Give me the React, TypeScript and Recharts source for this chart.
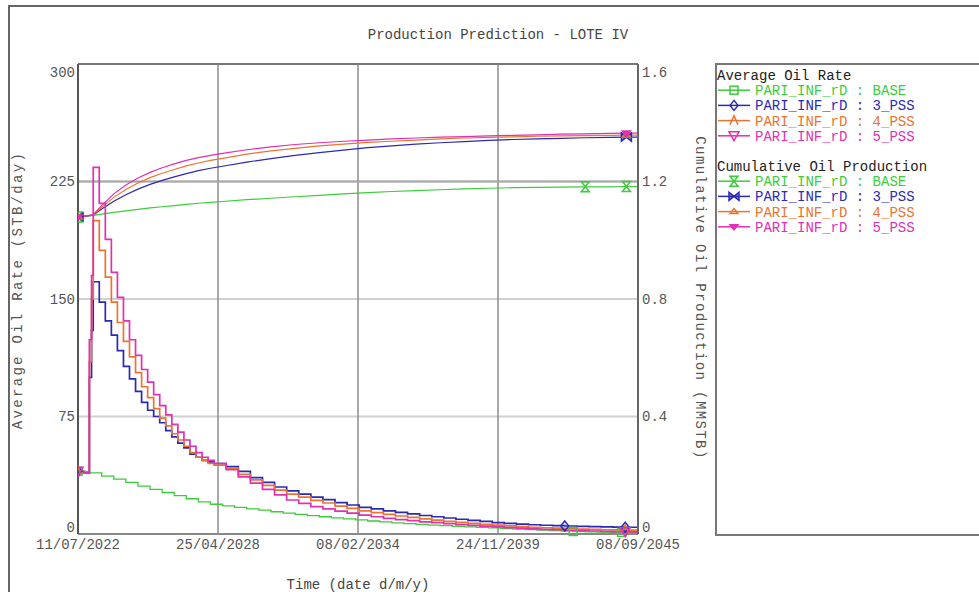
import React from 'react';
import { LineChart, Line, XAxis, YAxis, CartesianGrid, ReferenceLine } from 'recharts';

// x axis: decimal years, ticks shown as dates
const TICK_T = [2022.52, 2028.31, 2034.1, 2039.89, 2045.68];
const TICK_LABELS = ['11/07/2022', '25/04/2028', '08/02/2034', '24/11/2039', '08/09/2045'];
const RATE_TICKS = [0, 75, 150, 225, 300];
const CUM_TICKS = [0, 0.4, 0.8, 1.2, 1.6];

// rate of the three PSS cases (STB/day), stepped
const T_PSS = [
  2022.52, 2022.75, 2022.99, 2023.08,
  2023.15, 2023.4, 2023.65, 2023.9, 2024.15, 2024.4, 2024.65, 2024.9, 2025.15, 2025.4, 2025.65,
  2025.9, 2026.15, 2026.4, 2026.65, 2026.9, 2027.15, 2027.4, 2027.65, 2027.9, 2028.15,
  2028.65, 2029.15, 2029.65, 2030.15, 2030.65, 2031.15, 2031.65, 2032.15, 2032.65, 2033.15,
  2033.65, 2034.15, 2034.65, 2035.15, 2035.65, 2036.15, 2036.65, 2037.15, 2037.65, 2038.15,
  2038.65, 2039.15, 2039.65, 2040.15, 2040.65, 2041.15, 2041.65, 2042.15, 2042.65, 2043.15,
  2043.65, 2044.15, 2044.65, 2045.15, 2045.68,
];
const RATE_3PSS = [
  40, 39, 100, 130,
  161, 148, 136, 127, 117, 107, 99, 91, 84, 79, 75, 71, 66, 62, 58, 55, 51, 49, 47, 46, 45,
  43, 40, 36, 33, 30, 27.5, 25.5, 23.5, 22, 20, 18.5, 17, 16, 14.8, 13.8, 12.8, 11.8, 11, 10.2, 9.4,
  8.7, 8, 7.3, 6.8, 6.3, 5.9, 5.6, 5.3, 5.1, 4.9, 4.7, 4.5, 4.4, 4.3,
  4.2,
];
const RATE_4PSS = [
  40, 39, 110, 150,
  200, 181, 164, 148, 135, 123, 113, 103, 94, 87, 80, 74, 69, 64, 60, 56, 52, 49, 47, 45, 44,
  42, 38, 34.5, 31, 28, 25.5, 23.5, 21.5, 19.8, 17.8, 16.3, 14.8, 13.6, 12.5, 11.5, 10.6, 9.7, 8.9, 8.1, 7.4,
  6.8, 6.2, 5.7, 5.2, 4.7, 4.3, 4.0, 3.7, 3.4, 3.1, 2.9, 2.7, 2.6, 2.5,
  2.4,
];
const RATE_5PSS = [
  40, 39, 124, 165,
  234, 211, 188, 167, 151, 136, 124, 114, 105, 97, 89, 82, 76, 70, 65, 60, 56, 52, 49, 47, 45,
  41, 36.5, 32.5, 28.5, 25, 21.7, 19.5, 17.5, 16, 14.6, 13.3, 12, 11, 10, 9.2, 8.5, 7.8, 7.2, 6.6, 6,
  5.5, 5, 4.6, 4.1, 3.7, 3.3, 3, 2.7, 2.4, 2.1, 1.9, 1.7, 1.5, 1.4,
  1.3,
];

// base case rate
const T_BASE = [
  2022.52, 2023, 2023.5, 2024, 2024.5, 2025, 2025.5, 2026, 2026.5, 2027, 2027.5, 2028, 2028.5,
  2029, 2029.5, 2030, 2030.5, 2031, 2031.5, 2032, 2032.5, 2033, 2033.5, 2034, 2034.5, 2035,
  2035.5, 2036, 2036.5, 2037, 2037.5, 2038, 2038.5, 2039, 2039.5, 2040, 2040.5, 2041, 2041.5,
  2042, 2042.5, 2043, 2043.5, 2044, 2044.5, 2045, 2045.5, 2045.68,
];
const RATE_BASE = [
  40, 39, 37, 35, 33, 30.5, 28.5, 26.5, 24.5, 22.5, 20.5, 19, 18,
  17, 16, 15.2, 14.2, 13.3, 12.5, 11.7, 11, 10.3, 9.6, 9, 8.3, 7.7,
  7.1, 6.6, 6.1, 5.7, 5.3, 4.9, 4.5, 4.2, 3.9, 3.5, 3.1, 2.8, 2.5,
  2.2, 1.9, 1.6, 1.4, 1.2, 1.1, 1.0, 0.9, 0.9,
];

// cumulative oil (MMSTB)
const T_CUM = [
  2022.52, 2023.15, 2023.5, 2024, 2024.5, 2025, 2025.5, 2026, 2026.5, 2027, 2027.5, 2028, 2028.5,
  2029.5, 2030.5, 2031.5, 2032.5, 2033.5, 2034.5, 2035.5, 2036.5, 2037.5, 2038.5, 2039.5,
  2040.5, 2041.5, 2042.5, 2043.5, 2044.5, 2045.2, 2045.68,
];
const CUM_BASE = [
  1.079, 1.085, 1.089, 1.095, 1.1, 1.105, 1.11, 1.114, 1.118, 1.122, 1.126, 1.129, 1.132,
  1.138, 1.143, 1.148, 1.153, 1.158, 1.162, 1.166, 1.169, 1.172, 1.175, 1.177,
  1.179, 1.18, 1.181, 1.182, 1.182, 1.183, 1.183,
];
const CUM_3PSS = [
  1.079, 1.085, 1.106, 1.133, 1.155, 1.174, 1.19, 1.204, 1.216, 1.227, 1.237, 1.245, 1.252,
  1.266, 1.278, 1.289, 1.298, 1.307, 1.315, 1.321, 1.327, 1.332, 1.336, 1.34,
  1.343, 1.345, 1.347, 1.349, 1.35, 1.351, 1.351,
];
const CUM_4PSS = [
  1.079, 1.086, 1.112, 1.146, 1.173, 1.195, 1.213, 1.228, 1.241, 1.253, 1.263, 1.272, 1.279,
  1.293, 1.304, 1.313, 1.321, 1.327, 1.333, 1.337, 1.341, 1.345, 1.348, 1.35,
  1.352, 1.354, 1.355, 1.356, 1.357, 1.358, 1.358,
];
const CUM_5PSS = [
  1.079, 1.087, 1.118, 1.158, 1.188, 1.212, 1.231, 1.247, 1.26, 1.272, 1.281, 1.289, 1.296,
  1.308, 1.318, 1.326, 1.332, 1.337, 1.341, 1.345, 1.348, 1.351, 1.353, 1.355,
  1.357, 1.359, 1.361, 1.362, 1.364, 1.365, 1.365,
];

const GREEN = '#3ccc3c';
const BLUE = '#2a2ab4';
const ORANGE = '#ea7430';
const PINK = '#e030b4';
const FONT = '"Liberation Mono", "DejaVu Sans Mono", monospace';

const rows = (ts: number[], vs: number[]) => ts.map((t, i) => ({ t, v: vs[i] }));

const RATE_SERIES = [
  { name: 'PARI_INF_rD : BASE', color: GREEN, shape: 'square', data: rows(T_BASE, RATE_BASE), marks: [2022.52, 2043, 2045], width: 1.3 },
  { name: 'PARI_INF_rD : 3_PSS', color: BLUE, shape: 'diamond', data: rows(T_PSS, RATE_3PSS), marks: [2022.52, 2042.65, 2045.15], width: 1.7 },
  { name: 'PARI_INF_rD : 4_PSS', color: ORANGE, shape: 'tri', data: rows(T_PSS, RATE_4PSS), marks: [2022.52, 2045.15], width: 1.7 },
  { name: 'PARI_INF_rD : 5_PSS', color: PINK, shape: 'invtri', data: rows(T_PSS, RATE_5PSS), marks: [2022.52, 2045.15], width: 1.7 },
];
const CUM_SERIES = [
  { name: 'PARI_INF_rD : BASE', color: GREEN, shape: 'hourglass', data: rows(T_CUM, CUM_BASE), marks: [2022.52, 2043.5, 2045.2], width: 1.2 },
  { name: 'PARI_INF_rD : 3_PSS', color: BLUE, shape: 'bowtie', data: rows(T_CUM, CUM_3PSS), marks: [2022.52, 2045.2], width: 1.2 },
  { name: 'PARI_INF_rD : 4_PSS', color: ORANGE, shape: 'smalltri', data: rows(T_CUM, CUM_4PSS), marks: [2022.52, 2045.2], width: 1.2 },
  { name: 'PARI_INF_rD : 5_PSS', color: PINK, shape: 'smallinv', data: rows(T_CUM, CUM_5PSS), marks: [2022.52, 2045.2], width: 1.2 },
];

function Marker({ shape, x, y, color }: { shape: string; x: number; y: number; color: string }) {
  const p = { stroke: color, strokeWidth: 1.5, fill: 'none' };
  switch (shape) {
    case 'square':
      return <rect x={x - 4} y={y - 4} width={8} height={8} {...p} />;
    case 'diamond':
      return <path d={`M${x},${y - 5} L${x + 4},${y} L${x},${y + 5} L${x - 4},${y} Z`} {...p} />;
    case 'tri':
      return <path d={`M${x - 4},${y + 4} L${x},${y - 5} L${x + 4},${y + 4}`} {...p} />;
    case 'invtri':
      return <path d={`M${x - 5},${y - 4} L${x + 5},${y - 4} L${x},${y + 5} Z`} {...p} />;
    case 'hourglass':
      return <path d={`M${x - 4},${y - 5} H${x + 4} L${x - 4},${y + 5} H${x + 4} Z`} {...p} />;
    case 'bowtie':
      return <path d={`M${x - 5},${y - 4} V${y + 4} L${x + 5},${y - 4} V${y + 4} Z`} {...p} fill={color} fillOpacity={0.5} />;
    case 'smalltri':
      return <path d={`M${x - 4},${y + 2} L${x},${y - 3} L${x + 4},${y + 2} Z`} {...p} />;
    default:
      return <path d={`M${x - 4},${y - 2} L${x + 4},${y - 2} L${x},${y + 3} Z`} {...p} fill={color} />;
  }
}

const makeDot = (s: { shape: string; color: string; marks: number[] }) => (props: any) => {
  const { cx, cy, payload, index } = props;
  if (!s.marks.includes(payload.t)) return <g key={index} />;
  return (
    <g key={index}>
      <Marker shape={s.shape} x={cx} y={cy} color={s.color} />
    </g>
  );
};

const YTick = (props: any) => {
  const { x, y, payload, textAnchor, top, fmt } = props;
  const dy = payload.value === top ? 8 : payload.value === 0 ? -7 : 0;
  return (
    <text x={x} y={y + dy} dy="0.35em" textAnchor={textAnchor} fill="#555" fontSize={14} fontFamily={FONT}>
      {fmt(payload.value)}
    </text>
  );
};

function LegendBlock({ title, series, y0 }: { title: string; series: any[]; y0: number }) {
  return (
    <g>
      <text x={717} y={y0} dy="0.35em" fill="#222" fontSize={14} fontFamily={FONT}>{title}</text>
      {series.map((s, i) => {
        const y = y0 + 15.2 * (i + 1);
        return (
          <g key={s.shape}>
            <line x1={718} x2={750} y1={y} y2={y} stroke={s.color} strokeWidth={1.5} />
            <Marker shape={s.shape} x={734} y={y} color={s.color} />
            <text x={755} y={y} dy="0.35em" fill={s.color} fontSize={14} fontFamily={FONT}>{s.name}</text>
          </g>
        );
      })}
    </g>
  );
}

export default function App() {
  return (
    <div style={{ position: 'absolute', left: 0, top: 0, width: 979, height: 592, overflow: 'hidden', background: '#fff' }}>
      <div style={{ position: 'absolute', left: 8, top: 5, width: 1100, height: 700, border: '2px solid #666' }} />
      <div style={{ position: 'absolute', left: 715, top: 63, width: 400, height: 469, border: '2px solid #777' }} />
      <div style={{ position: 'absolute', left: 0, top: 0 }}>
        <LineChart width={979} height={592} margin={{ top: 64, right: 301, bottom: 28, left: 28 }}>
          <CartesianGrid yAxisId="rate" horizontal vertical={false} stroke="#d0d0d0" strokeWidth={2} />
          <CartesianGrid yAxisId="rate" horizontal={false} vertical stroke="#8c8c8c" strokeWidth={1.5} />
          <XAxis
            dataKey="t"
            type="number"
            domain={[2022.52, 2045.68]}
            allowDataOverflow
            ticks={TICK_T}
            tickFormatter={(v: number) => TICK_LABELS[TICK_T.indexOf(v)] ?? ''}
            tick={{ fill: '#555', fontSize: 14, fontFamily: FONT }}
            tickSize={0}
            tickMargin={5}
            height={30}
            stroke="#888"
            strokeWidth={2}
          />
          <YAxis
            yAxisId="rate"
            domain={[0, 300]}
            ticks={RATE_TICKS}
            width={50}
            tickSize={0}
            tickMargin={3}
            stroke="#555"
            strokeWidth={2}
            tick={<YTick top={300} fmt={(v: number) => String(v)} />}
          />
          <YAxis
            yAxisId="cum"
            orientation="right"
            domain={[0, 1.6]}
            ticks={CUM_TICKS}
            width={40}
            tickSize={0}
            tickMargin={4}
            stroke="#666"
            strokeWidth={2}
            tick={<YTick top={1.6} fmt={(v: number) => (v === 0 ? '0' : v.toFixed(1))} />}
          />
          <ReferenceLine yAxisId="rate" y={225} stroke="#a8a8a8" strokeWidth={2} />
          <ReferenceLine yAxisId="rate" y={300} stroke="#777" strokeWidth={2} />
          {CUM_SERIES.map((s) => (
            <Line
              key={'c' + s.shape}
              yAxisId="cum"
              data={s.data}
              dataKey="v"
              type="linear"
              stroke={s.color}
              strokeWidth={s.width}
              dot={makeDot(s)}
              activeDot={false}
              isAnimationActive={false}
            />
          ))}
          {RATE_SERIES.map((s) => (
            <Line
              key={'r' + s.shape}
              yAxisId="rate"
              data={s.data}
              dataKey="v"
              type="stepAfter"
              stroke={s.color}
              strokeWidth={s.width}
              dot={makeDot(s)}
              activeDot={false}
              isAnimationActive={false}
            />
          ))}
        </LineChart>
      </div>
      <svg width={979} height={592} style={{ position: 'absolute', left: 0, top: 0, pointerEvents: 'none' }}>
        <text x={498} y={34} dy="0.35em" textAnchor="middle" fill="#444" fontSize={14} fontFamily={FONT}>
          Production Prediction - LOTE IV
        </text>
        <text x={358} y={584} dy="0.35em" textAnchor="middle" fill="#444" fontSize={14} fontFamily={FONT}>
          Time (date d/m/y)
        </text>
        <text transform="translate(17,290) rotate(-90)" dy="0.35em" textAnchor="middle" fill="#555" fontSize={14} letterSpacing={2.3} fontFamily={FONT}>
          Average Oil Rate (STB/day)
        </text>
        <text transform="translate(701,298) rotate(90)" dy="0.35em" textAnchor="middle" fill="#555" fontSize={14} letterSpacing={1.4} fontFamily={FONT}>
          Cumulative Oil Production (MMSTB)
        </text>
        <LegendBlock title="Average Oil Rate" series={RATE_SERIES} y0={75} />
        <LegendBlock title="Cumulative Oil Production" series={CUM_SERIES} y0={166} />
      </svg>
    </div>
  );
}
